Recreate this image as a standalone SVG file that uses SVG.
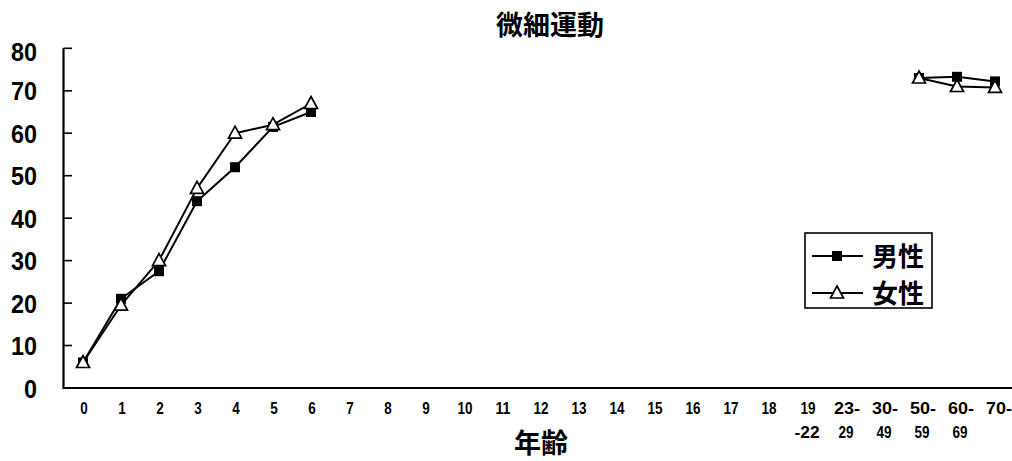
<svg xmlns="http://www.w3.org/2000/svg" xmlns:xlink="http://www.w3.org/1999/xlink" width="1012" height="461" viewBox="0 0 1012 461">
<style>
.ax{stroke:#000;stroke-width:2.2;fill:none}
.tk{stroke:#000;stroke-width:1.6}
.ser{stroke:#000;stroke-width:2;fill:none;stroke-linejoin:round}
.yl{font-family:"Liberation Sans",Arial,sans-serif;font-size:26px;font-weight:bold;fill:#000;text-anchor:end}
.xl{font-family:"Liberation Sans",Arial,sans-serif;font-size:16px;font-weight:bold;fill:#000;text-anchor:middle}
.cjk{font-family:"Noto Sans CJK JP","Noto Sans CJK SC",sans-serif;font-weight:bold;fill:#000}
</style>
<defs>
<rect id="sq" x="-5" y="-5" width="10" height="10" fill="#000"/>
<polygon id="tri" points="0,-7 6.5,5 -6.5,5" fill="#fff" stroke="#000" stroke-width="1.7" stroke-linejoin="miter"/>
</defs>
<rect width="1012" height="461" fill="#fff"/>

<g id="title"><text class="cjk" x="550" y="35" font-size="27" text-anchor="middle">微細運動</text></g>

<g id="axes">
<path class="ax" d="M63.5,48.3 V388 H1012"/>
<g class="tk">
<line x1="63.5" y1="48.3" x2="72" y2="48.3"/>
<line x1="63.5" y1="90.8" x2="72" y2="90.8"/>
<line x1="63.5" y1="133.2" x2="72" y2="133.2"/>
<line x1="63.5" y1="175.7" x2="72" y2="175.7"/>
<line x1="63.5" y1="218.2" x2="72" y2="218.2"/>
<line x1="63.5" y1="260.6" x2="72" y2="260.6"/>
<line x1="63.5" y1="303.1" x2="72" y2="303.1"/>
<line x1="63.5" y1="345.5" x2="72" y2="345.5"/>
</g>
</g>

<g id="y-labels">
<text class="yl" x="37" y="61" textLength="26" lengthAdjust="spacingAndGlyphs">80</text>
<text class="yl" x="37" y="100.3" textLength="26" lengthAdjust="spacingAndGlyphs">70</text>
<text class="yl" x="37" y="142.7" textLength="26" lengthAdjust="spacingAndGlyphs">60</text>
<text class="yl" x="37" y="185.2" textLength="26" lengthAdjust="spacingAndGlyphs">50</text>
<text class="yl" x="37" y="227.7" textLength="26" lengthAdjust="spacingAndGlyphs">40</text>
<text class="yl" x="37" y="270.1" textLength="26" lengthAdjust="spacingAndGlyphs">30</text>
<text class="yl" x="37" y="312.6" textLength="26" lengthAdjust="spacingAndGlyphs">20</text>
<text class="yl" x="37" y="355" textLength="26" lengthAdjust="spacingAndGlyphs">10</text>
<text class="yl" x="37" y="397.5" textLength="13" lengthAdjust="spacingAndGlyphs">0</text>
</g>

<g id="x-labels">
<text class="xl" x="84" y="414" textLength="7.5" lengthAdjust="spacingAndGlyphs">0</text>
<text class="xl" x="122" y="414" textLength="7.5" lengthAdjust="spacingAndGlyphs">1</text>
<text class="xl" x="160" y="414" textLength="7.5" lengthAdjust="spacingAndGlyphs">2</text>
<text class="xl" x="198" y="414" textLength="7.5" lengthAdjust="spacingAndGlyphs">3</text>
<text class="xl" x="236" y="414" textLength="7.5" lengthAdjust="spacingAndGlyphs">4</text>
<text class="xl" x="274" y="414" textLength="7.5" lengthAdjust="spacingAndGlyphs">5</text>
<text class="xl" x="312" y="414" textLength="7.5" lengthAdjust="spacingAndGlyphs">6</text>
<text class="xl" x="350" y="414" textLength="7.5" lengthAdjust="spacingAndGlyphs">7</text>
<text class="xl" x="388" y="414" textLength="7.5" lengthAdjust="spacingAndGlyphs">8</text>
<text class="xl" x="426" y="414" textLength="7.5" lengthAdjust="spacingAndGlyphs">9</text>
<text class="xl" x="465" y="414" textLength="15" lengthAdjust="spacingAndGlyphs">10</text>
<text class="xl" x="503" y="414" textLength="15" lengthAdjust="spacingAndGlyphs">11</text>
<text class="xl" x="541" y="414" textLength="15" lengthAdjust="spacingAndGlyphs">12</text>
<text class="xl" x="579" y="414" textLength="15" lengthAdjust="spacingAndGlyphs">13</text>
<text class="xl" x="617" y="414" textLength="15" lengthAdjust="spacingAndGlyphs">14</text>
<text class="xl" x="655" y="414" textLength="15" lengthAdjust="spacingAndGlyphs">15</text>
<text class="xl" x="693" y="414" textLength="15" lengthAdjust="spacingAndGlyphs">16</text>
<text class="xl" x="731" y="414" textLength="15" lengthAdjust="spacingAndGlyphs">17</text>
<text class="xl" x="769" y="414" textLength="15" lengthAdjust="spacingAndGlyphs">18</text>
<text class="xl" x="808" y="414" textLength="15" lengthAdjust="spacingAndGlyphs">19</text>
<text class="xl" x="807" y="438" textLength="25" lengthAdjust="spacingAndGlyphs">-22</text>
<text class="xl" x="847" y="414" textLength="26" lengthAdjust="spacingAndGlyphs">23-</text>
<text class="xl" x="846" y="438" textLength="15" lengthAdjust="spacingAndGlyphs">29</text>
<text class="xl" x="885" y="414" textLength="26" lengthAdjust="spacingAndGlyphs">30-</text>
<text class="xl" x="884" y="438" textLength="15" lengthAdjust="spacingAndGlyphs">49</text>
<text class="xl" x="923" y="414" textLength="26" lengthAdjust="spacingAndGlyphs">50-</text>
<text class="xl" x="922" y="438" textLength="15" lengthAdjust="spacingAndGlyphs">59</text>
<text class="xl" x="961" y="414" textLength="26" lengthAdjust="spacingAndGlyphs">60-</text>
<text class="xl" x="960" y="438" textLength="15" lengthAdjust="spacingAndGlyphs">69</text>
<text class="xl" x="999" y="414" textLength="26" lengthAdjust="spacingAndGlyphs">70-</text>
</g>

<g id="x-title"><text class="cjk" x="541" y="453" font-size="27" text-anchor="middle">年齢</text></g>

<g id="connectors">
<polyline id="male-line-a" class="ser" points="83,362.5 121,298.8 159,271.2 197,201.2 235,167.2 273,126.9 311,112"/>
<polyline id="male-line-b" class="ser" points="919,78 957,76.8 995,81.4"/>
<polyline id="female-line-a" class="ser" points="83,362.5 121,305.2 159,260.6 197,188.4 235,133.2 273,124.7 311,103.5"/>
<polyline id="female-line-b" class="ser" points="919,78 957,86.5 995,87.4"/>
</g>

<g id="male-points">
<use xlink:href="#sq" href="#sq" x="83" y="362.5"/>
<use xlink:href="#sq" href="#sq" x="121" y="298.8"/>
<use xlink:href="#sq" href="#sq" x="159" y="271.2"/>
<use xlink:href="#sq" href="#sq" x="197" y="201.2"/>
<use xlink:href="#sq" href="#sq" x="235" y="167.2"/>
<use xlink:href="#sq" href="#sq" x="273" y="126.9"/>
<use xlink:href="#sq" href="#sq" x="311" y="112"/>
<use xlink:href="#sq" href="#sq" x="919" y="78"/>
<use xlink:href="#sq" href="#sq" x="957" y="76.8"/>
<use xlink:href="#sq" href="#sq" x="995" y="81.4"/>
</g>

<g id="female-points">
<use xlink:href="#tri" href="#tri" x="83" y="362.5"/>
<use xlink:href="#tri" href="#tri" x="121" y="305.2"/>
<use xlink:href="#tri" href="#tri" x="159" y="260.6"/>
<use xlink:href="#tri" href="#tri" x="197" y="188.4"/>
<use xlink:href="#tri" href="#tri" x="235" y="133.2"/>
<use xlink:href="#tri" href="#tri" x="273" y="124.7"/>
<use xlink:href="#tri" href="#tri" x="311" y="103.5"/>
<use xlink:href="#tri" href="#tri" x="919" y="78"/>
<use xlink:href="#tri" href="#tri" x="957" y="86.5"/>
<use xlink:href="#tri" href="#tri" x="995" y="87.4"/>
</g>

<g id="legend">
<rect x="805" y="233" width="127" height="75" fill="#fff" stroke="#000" stroke-width="1.6"/>
<line class="ser" x1="812" y1="256" x2="863" y2="256"/>
<use xlink:href="#sq" href="#sq" x="837" y="256"/>
<text class="cjk" x="872" y="266" font-size="26" font-weight="normal">男性</text>
<line class="ser" x1="812" y1="293" x2="863" y2="293"/>
<use xlink:href="#tri" href="#tri" x="837" y="293"/>
<text class="cjk" x="872" y="303" font-size="26" font-weight="normal">女性</text>
</g>
</svg>
